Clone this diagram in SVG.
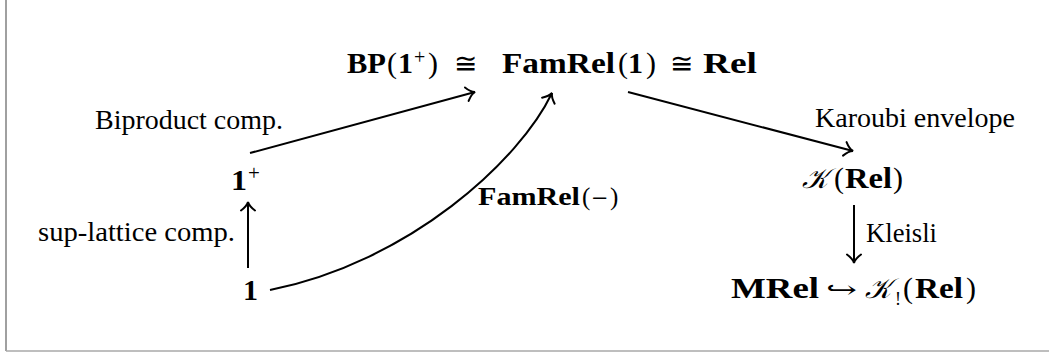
<svg xmlns="http://www.w3.org/2000/svg" width="1049" height="353" viewBox="0 0 1049 353">
<defs>
<style>
.b{font-family:"Liberation Serif","DejaVu Serif",serif;font-weight:bold;font-size:30px;fill:#000}
.r{font-family:"Liberation Serif","DejaVu Serif",serif;font-size:30px;fill:#000}
.s{font-family:"DejaVu Serif","DejaVu Sans",serif;font-size:28px;fill:#000}
.k{font-family:"DejaVu Serif","DejaVu Sans","Noto Sans",serif;font-style:italic;font-size:28px;fill:#000}
.lab{font-family:"Liberation Serif","DejaVu Serif",serif;font-size:27px;fill:#000}
.lb{font-family:"Liberation Serif","DejaVu Serif",serif;font-weight:bold;font-size:25px;fill:#000}
.lr{font-family:"Liberation Serif","DejaVu Serif",serif;font-size:25px;fill:#000}
.edge{fill:none;stroke:#000;stroke-width:2;marker-end:url(#to)}
</style>
<marker id="to" markerUnits="userSpaceOnUse" viewBox="-11 -9 13 18" refX="0" refY="0" markerWidth="13" markerHeight="18" orient="auto">
<path d="M-8.5,-7 Q-4,-1 0,0 Q-4,1 -8.5,7" fill="none" stroke="#000" stroke-width="2" stroke-linecap="round"/>
</marker>
</defs>
<rect width="1049" height="353" fill="#fff"/>
<g id="frame">
<line x1="6" y1="0" x2="6" y2="351" stroke="#808080" stroke-width="1.5"/>
<line x1="6" y1="351" x2="1049" y2="351" stroke="#a8a8a8" stroke-width="1.5"/>
</g>
<g id="node-top">
<text class="b" x="347" y="73" textLength="39" lengthAdjust="spacingAndGlyphs">BP</text>
<text class="r" x="387" y="73">(</text>
<text class="b" x="398" y="73" textLength="15" lengthAdjust="spacingAndGlyphs">1</text>
<text class="r" x="414" y="64" style="font-size:20px">+</text>
<text class="r" x="428" y="73">)</text>
<text class="s" x="454" y="73">≅</text>
<text class="b" x="502" y="73" textLength="113" lengthAdjust="spacingAndGlyphs">FamRel</text>
<text class="r" x="618" y="73">(</text>
<text class="b" x="628" y="73" textLength="15" lengthAdjust="spacingAndGlyphs">1</text>
<text class="r" x="646" y="73">)</text>
<text class="s" x="670" y="73">≅</text>
<text class="b" x="703" y="73" textLength="54" lengthAdjust="spacingAndGlyphs">Rel</text>
</g>
<g id="node-oneplus">
<text class="b" x="231" y="190" textLength="16" lengthAdjust="spacingAndGlyphs">1</text>
<text class="r" x="248" y="180" style="font-size:21px">+</text>
</g>
<g id="node-one">
<text class="b" x="243" y="300" textLength="15" lengthAdjust="spacingAndGlyphs">1</text>
</g>
<g id="node-karoubi">
<text class="k" x="802" y="188">𝒦</text>
<text class="r" x="834" y="188">(</text>
<text class="b" x="845" y="188" textLength="47" lengthAdjust="spacingAndGlyphs">Rel</text>
<text class="r" x="893" y="188">)</text>
</g>
<g id="node-mrel">
<text class="b" x="731" y="298" textLength="88" lengthAdjust="spacingAndGlyphs">MRel</text>
<text class="s" x="826" y="298" style="font-size:24px" textLength="31" lengthAdjust="spacingAndGlyphs">↪</text>
<text class="k" x="865" y="298">𝒦</text>
<text class="r" x="895" y="305" style="font-size:18px">!</text>
<text class="r" x="903" y="298">(</text>
<text class="b" x="915" y="298" textLength="48" lengthAdjust="spacingAndGlyphs">Rel</text>
<text class="r" x="966" y="298">)</text>
</g>
<g id="connectors">
<path class="edge" d="M248,268 L248,202"/>
<path class="edge" d="M250,153 L475,92"/>
<path class="edge" d="M270,290 C410,262 520,160 552,93"/>
<path class="edge" d="M628,92 L853,151"/>
<path class="edge" d="M854,205 L854,263"/>
</g>
<g id="labels">
<text class="lab" x="95" y="129" textLength="188" lengthAdjust="spacingAndGlyphs">Biproduct comp.</text>
<text class="lab" x="38" y="241" textLength="197" lengthAdjust="spacingAndGlyphs">sup-lattice comp.</text>
<text class="lab" x="815" y="127" textLength="200" lengthAdjust="spacingAndGlyphs">Karoubi envelope</text>
<text class="lab" x="866" y="242" textLength="71" lengthAdjust="spacingAndGlyphs">Kleisli</text>
<text class="lb" x="478" y="205" textLength="102" lengthAdjust="spacingAndGlyphs">FamRel</text>
<text class="lr" x="582" y="205">(</text>
<text class="s" x="591" y="205" style="font-size:21px">−</text>
<text class="lr" x="610" y="205">)</text>
</g>
</svg>
